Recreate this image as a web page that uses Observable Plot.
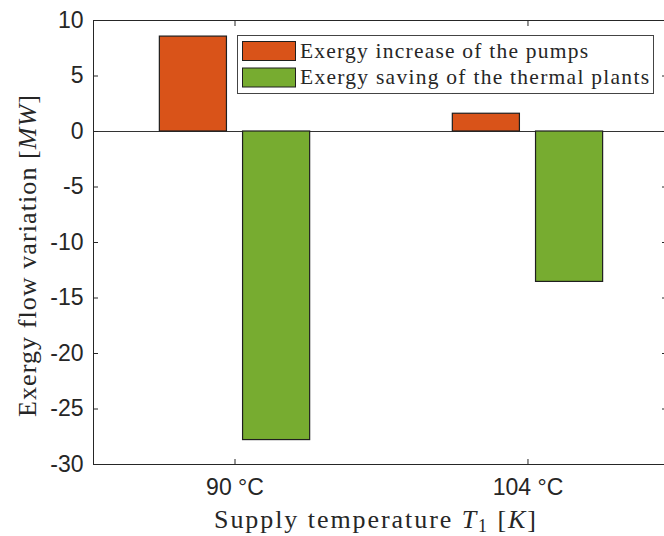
<!DOCTYPE html>
<html><head><meta charset="utf-8">
<script src="https://cdn.jsdelivr.net/npm/d3@7"></script>
<script src="https://cdn.jsdelivr.net/npm/@observablehq/plot@0.6"></script>
<style>
body{margin:0;background:#fff}
#chart{position:relative;width:664px;height:536px;overflow:hidden;background:#fff}
</style>
</head><body><div id="chart"></div>
<script>
// ---- data ----
const categories = ["90 °C", "104 °C"];
const seriesNames = ["Exergy increase of the pumps", "Exergy saving of the thermal plants"];
const pumpsValues = [8.55, 1.6];
const thermalValues = [-27.8, -13.55];
const yTickValues = [-30, -25, -20, -15, -10, -5, 0, 5, 10];
const seriesColors = ["#D95319", "#77AC30"];

// ---- layout ----
const W = 664, H = 536;
const ML = 93, MR = 0, MT = 20, MB = 72;
const xDomain = [0.517, 2.466];
const barW = 0.229, barGap = 0.055;
const ink = "#262626";

const rows = [];
categories.forEach((c, i) => {
  const center = i + 1;
  rows.push({cat: c, series: seriesNames[0], value: pumpsValues[i],
    x1: center - barGap / 2 - barW, x2: center - barGap / 2});
  rows.push({cat: c, series: seriesNames[1], value: thermalValues[i],
    x1: center + barGap / 2, x2: center + barGap / 2 + barW});
});
const catPos = categories.map((c, i) => i + 1);

const plot = Plot.plot({
  width: W, height: H,
  marginLeft: ML, marginRight: MR, marginTop: MT, marginBottom: MB,
  style: {fontFamily: "'Liberation Sans', Arial, sans-serif", fontSize: "23px", color: ink, background: "#fff"},
  x: {type: "linear", domain: xDomain, axis: null},
  y: {domain: [-30, 10], axis: null},
  color: {domain: seriesNames, range: seriesColors},
  marks: [
    Plot.ruleY([0], {stroke: "#333", strokeWidth: 1.2}),
    Plot.rectY(rows, {x1: "x1", x2: "x2", y1: 0, y2: "value", fill: "series", stroke: "#1f1f1f", strokeWidth: 1.2}),
    Plot.ruleX([xDomain[0]], {stroke: ink, strokeWidth: 1}),
    Plot.ruleY([-30], {stroke: ink, strokeWidth: 1}),
    Plot.ruleY([10], {stroke: ink, strokeWidth: 1}),
    Plot.axisY({anchor: "left", ticks: yTickValues, tickSize: -5, tickPadding: 15, tickFormat: d => String(d), label: null, stroke: ink, fill: ink}),
    Plot.axisY({anchor: "right", ticks: yTickValues, tickSize: -3, tickFormat: () => "", label: null, stroke: ink}),
    Plot.axisX({anchor: "bottom", ticks: catPos, tickSize: -5, tickPadding: 19, tickFormat: d => categories[d - 1], label: null, stroke: ink, fill: ink}),
    Plot.axisX({anchor: "top", ticks: catPos, tickSize: -5, tickFormat: () => "", label: null, stroke: ink})
  ]
});

document.getElementById("chart").appendChild(plot);
const svg = d3.select(plot);
const serif = "'Liberation Serif', 'Times New Roman', serif";

// y label
const yl = svg.append("text")
  .attr("transform", "translate(36,417) rotate(-90)")
  .attr("text-anchor", "start")
  .attr("font-family", serif).attr("font-size", 26).attr("fill", ink)
  .attr("textLength", 322).attr("lengthAdjust", "spacing");
yl.append("tspan").text("Exergy flow variation [");
yl.append("tspan").attr("font-style", "italic").text("MW");
yl.append("tspan").text("]");

// x label
const xl = svg.append("text")
  .attr("x", 214).attr("y", 528)
  .attr("text-anchor", "start")
  .attr("font-family", serif).attr("font-size", 26).attr("fill", ink)
  .attr("textLength", 322).attr("lengthAdjust", "spacing");
xl.append("tspan").text("Supply temperature ");
xl.append("tspan").attr("font-style", "italic").text("T");
xl.append("tspan").attr("font-size", 18).attr("dy", 4).text("1");
xl.append("tspan").attr("dy", -4).text(" [");
xl.append("tspan").attr("font-style", "italic").text("K");
xl.append("tspan").text("]");

// legend
const lg = svg.append("g");
lg.append("rect").attr("x", 237.5).attr("y", 35.5).attr("width", 416).attr("height", 58)
  .attr("fill", "#fff").attr("stroke", "#444").attr("stroke-width", 1);
const legendWidths = [288, 349];
seriesNames.forEach((s, i) => {
  const yy = 41.5 + i * 26.5;
  lg.append("rect").attr("x", 242.5).attr("y", yy).attr("width", 53).attr("height", 19)
    .attr("fill", seriesColors[i]).attr("stroke", "#1f1f1f").attr("stroke-width", 1);
  lg.append("text").attr("x", 300).attr("y", yy + 16)
    .attr("text-anchor", "start")
    .attr("font-family", serif).attr("font-size", 21.5).attr("fill", ink)
    .attr("textLength", legendWidths[i]).attr("lengthAdjust", "spacing")
    .text(s);
});
</script>
</body></html>
